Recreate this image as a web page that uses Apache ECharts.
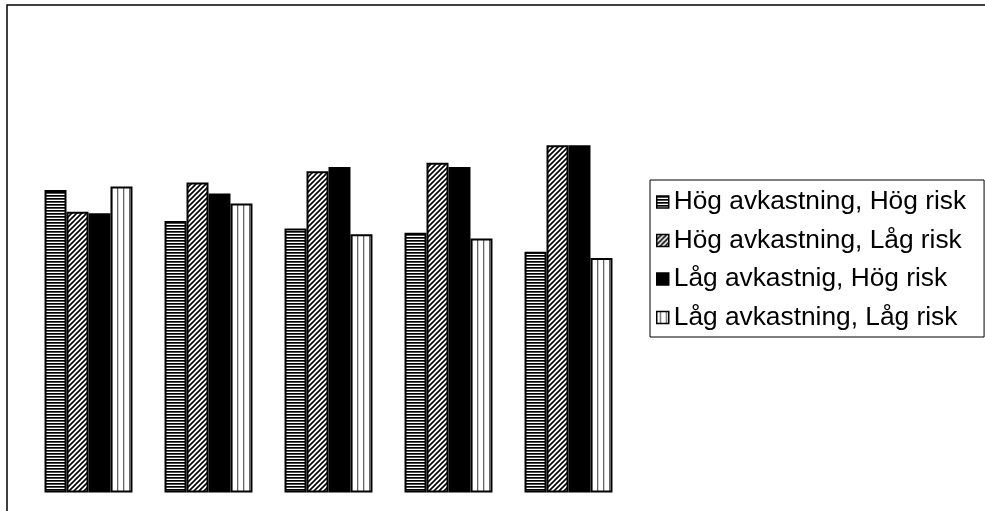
<!DOCTYPE html>
<html>
<head>
<meta charset="utf-8">
<script src="https://cdn.jsdelivr.net/npm/echarts@6/dist/echarts.min.js"></script>
<style>
html,body{margin:0;padding:0;background:#fff;}
#chart{width:985px;height:511px;}
</style>
</head>
<body>
<div id="chart"></div>
<script>
const categories = ['1', '2', '3', '4', '5'];
const seriesNames = ['Hög avkastning, Hög risk', 'Hög avkastning, Låg risk', 'Låg avkastnig, Hög risk', 'Låg avkastning, Låg risk'];
const hogHog = [43.2, 38.8, 37.7, 37.1, 34.4];
const hogLag = [40.1, 44.3, 45.9, 47.1, 49.6];
const lagHog = [39.9, 42.7, 46.5, 46.5, 49.6];
const lagLag = [43.7, 41.3, 36.9, 36.3, 33.5];

function makeCanvas(w, h, draw) {
  const c = document.createElement('canvas');
  c.width = w; c.height = h;
  const ctx = c.getContext('2d');
  ctx.fillStyle = '#fff';
  ctx.fillRect(0, 0, w, h);
  draw(ctx);
  return c;
}
const horiz = makeCanvas(4, 3, ctx => { ctx.fillStyle = '#000'; ctx.fillRect(0, 0, 4, 1.7); });
const diag = makeCanvas(5, 5, ctx => {
  ctx.strokeStyle = '#000'; ctx.lineWidth = 1.6;
  ctx.beginPath();
  ctx.moveTo(-1, 6); ctx.lineTo(6, -1);
  ctx.moveTo(-1, 1); ctx.lineTo(1, -1);
  ctx.moveTo(4, 6); ctx.lineTo(6, 4);
  ctx.stroke();
});
const vert = makeCanvas(6, 2, ctx => { ctx.fillStyle = '#666'; ctx.fillRect(3, 0, 1.3, 2); });

const fills = [
  { image: horiz, repeat: 'repeat' },
  { image: diag, repeat: 'repeat' },
  '#000',
  { image: vert, repeat: 'repeat' }
];
const dataSets = [hogHog, hogLag, lagHog, lagLag];

const chart = echarts.init(document.getElementById('chart'), null, { renderer: 'canvas' });
chart.setOption({
  animation: false,
  backgroundColor: '#fff',
  graphic: [{
    type: 'rect',
    shape: { x: 7, y: 5, width: 1200, height: 1000 },
    style: { fill: 'none', stroke: '#000', lineWidth: 1.5 },
    z: -1
  }],
  grid: { left: 28.5, width: 600, top: 72.5, height: 420 },
  xAxis: {
    type: 'category', data: categories,
    axisLine: { show: false }, axisTick: { show: false }, axisLabel: { show: false }
  },
  yAxis: {
    type: 'value', min: 0, max: 60,
    show: false, splitLine: { show: false }
  },
  legend: {
    orient: 'vertical',
    left: 650, top: 180,
    padding: [7, 18, 4.5, 6],
    itemGap: 8.5,
    icon: 'rect',
    itemWidth: 12, itemHeight: 12,
    itemTextGap: 1,
    borderColor: '#000', borderWidth: 1,
    selectedMode: false,
    textStyle: { fontSize: 26.3, lineHeight: 30, color: '#000', fontFamily: 'Liberation Sans, Arial, sans-serif' },
    itemStyle: { borderColor: '#000', borderWidth: 1.5 },
    data: seriesNames
  },
  series: seriesNames.map((name, i) => ({
    name: name,
    type: 'bar',
    data: dataSets[i],
    barGap: '0%',
    barCategoryGap: '26.7%',
    itemStyle: { color: fills[i], borderColor: '#000', borderWidth: 2 }
  }))
});
</script>
</body>
</html>
